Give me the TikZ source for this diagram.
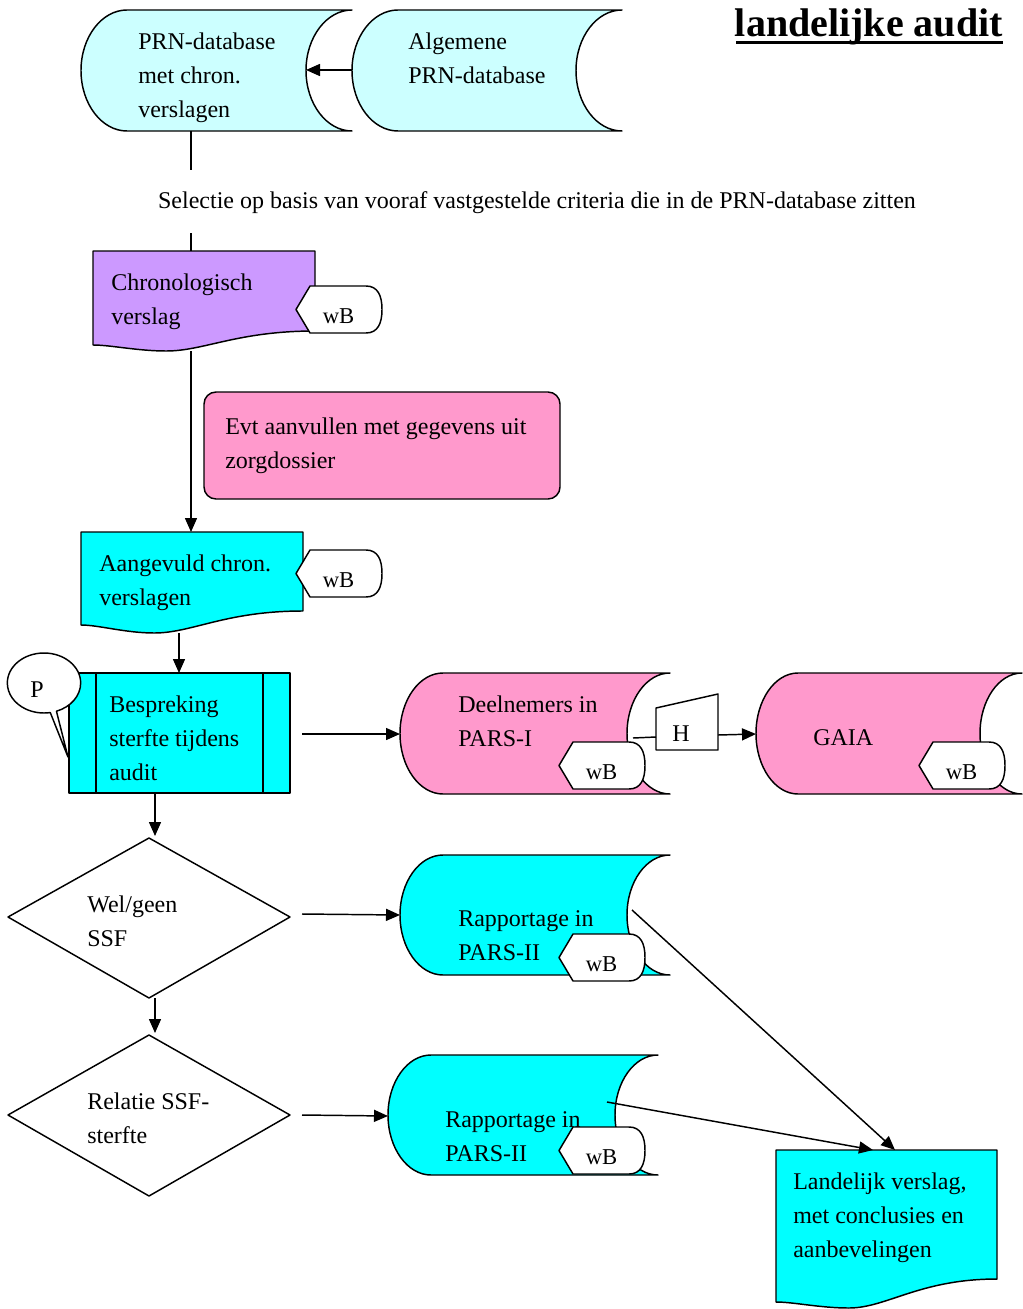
\documentclass[tikz,border=0pt]{standalone}
\usepackage{fontspec}
\setmainfont{Liberation Serif}
\usetikzlibrary{arrows.meta,shapes.callouts}

\definecolor{paleCyan}{HTML}{CCFFFF}
\definecolor{brightCyan}{HTML}{00FFFF}
\definecolor{lilac}{HTML}{CC99FF}
\definecolor{rose}{HTML}{FF99CC}

% stored-data shape: #1 left x, #2 right x, #3 top y, #4 bottom y, #5 curve depth, #6 fill
\newcommand\storedshape[6]{%
  \filldraw[shp,fill=#6] ({#1+#5},#3) -- (#2,#3)
    .. controls ({#2-0.55*#5},#3) and ({#2-#5},{(#3+#4)/2-0.276*(#4-#3)}) .. ({#2-#5},{(#3+#4)/2})
    .. controls ({#2-#5},{(#3+#4)/2+0.276*(#4-#3)}) and ({#2-0.55*#5},#4) .. (#2,#4)
    -- ({#1+#5},#4)
    .. controls ({#1+0.45*#5},#4) and (#1,{(#3+#4)/2+0.276*(#4-#3)}) .. (#1,{(#3+#4)/2})
    .. controls (#1,{(#3+#4)/2-0.276*(#4-#3)}) and ({#1+0.45*#5},#3) .. cycle;}

% document shape: #1 left x, #2 right x, #3 top y, #4 right bottom y, #5 lowest y, #6 left bottom y, #7 fill
\newcommand\docshape[7]{%
  \filldraw[shp,fill=#7] (#1,#3) -- (#2,#3) -- (#2,#4)
    .. controls ({#1+0.65*(#2-#1)},#4) and ({#1+0.5*(#2-#1)},#5) .. ({#1+0.33*(#2-#1)},#5)
    .. controls ({#1+0.2*(#2-#1)},#5) and ({#1+0.08*(#2-#1)},#6) .. (#1,#6) -- cycle;}

% wB tag: #1 node name, #2 left x, #3 top y
\newcommand\wbtag[3]{%
  \filldraw[shp,fill=white] (#2,{#3+23.5}) -- ({#2+14},#3) -- ({#2+70},#3)
    .. controls ({#2+82},#3) and ({#2+86},{#3+10}) .. ({#2+86},{#3+23.5})
    .. controls ({#2+86},{#3+37}) and ({#2+82},{#3+47}) .. ({#2+70},{#3+47})
    -- ({#2+14},{#3+47}) -- cycle;
  \node[tagtxt] (#1) at ({#2+42.5},{#3+37.5}) {wB};}

\begin{document}
\begin{tikzpicture}[x=0.75pt,y=-0.75pt,line join=round,
  shp/.style={draw=black,line width=1.1pt},
  txt/.style={font=\fontsize{18}{25.5}\selectfont,align=left,inner sep=0pt,anchor=north west},
  one/.style={font=\fontsize{18}{20}\selectfont,inner sep=0pt,anchor=base},
  tagtxt/.style={font=\fontsize{17}{19}\selectfont,inner sep=0pt,anchor=base},
  arr/.style={-{Triangle[length=10.5pt,width=9pt]},line width=1.1pt},
  con/.style={line width=1.1pt}]
\useasboundingbox (0,0) rectangle (1022,1309);

% title
\node[font=\bfseries\fontsize{30}{32}\selectfont,inner sep=0pt,anchor=base east] (title) at (1003,36.5) {landelijke audit};
\draw[line width=2.3pt] (736,42.5) -- (1003,42.5);

% databases at the top
\storedshape{81}{352}{10}{131}{46}{paleCyan}
\node[txt] (prnchron) at (138,33) {PRN-database\\met chron.\\verslagen};
\storedshape{352}{622}{10}{131}{46}{paleCyan}
\node[txt] (prnalg) at (408,33) {Algemene\\PRN-database};
\coordinate (algL) at (352,70);
\coordinate (chronR) at (306,70);
\draw[arr] (algL) -- (chronR);

% selection step
\node[one] (sel) at (537,208) {Selectie op basis van vooraf vastgestelde criteria die in de PRN-database zitten};
\coordinate (chronB) at (191,131);
\coordinate (selA) at (191,170);
\coordinate (selB) at (191,233);
\coordinate (verslT) at (191,251);
\draw[con] (chronB) -- (selA);
\draw[con] (selB) -- (verslT);

% chronological report
\docshape{93}{315}{251}{331}{351}{345}{lilac}
\node[txt] (chronverslag) at (111,274) {Chronologisch\\verslag};
\wbtag{wb1}{296}{286}

% supplement note
\filldraw[shp,fill=rose,rounded corners=9pt] (204,392) rectangle (560,499);
\node[txt] (aanvul) at (225,418) {Evt aanvullen met gegevens uit\\zorgdossier};

% supplemented report
\coordinate (verslB) at (191,351);
\coordinate (aangT) at (191,532);
\draw[arr] (verslB) -- (aangT);
\docshape{81}{303}{532}{611}{633}{625}{brightCyan}
\node[txt] (aangevuld) at (99,555) {Aangevuld chron.\\verslagen};
\wbtag{wb2}{296}{550}

% discussion during audit
\coordinate (aangB) at (179,633);
\coordinate (bespT) at (179,673);
\draw[arr] (aangB) -- (bespT);
\filldraw[shp,fill=brightCyan] (69,673) rectangle (290,793);
\draw[shp] (96,673) -- (96,793) (263,673) -- (263,793);
\node[txt] (bespreking) at (109,696) {Bespreking\\sterfte tijdens\\audit};
\node[ellipse callout,draw,fill=white,line width=1.1pt,minimum width=55pt,minimum height=45pt,
  inner sep=0pt,callout absolute pointer={(68,757)},callout pointer arc=10] (Pbubble) at (44,683) {};
\node[one] (P) at (37,697) {P};

% PARS-I and GAIA
\coordinate (bespR) at (302,734);
\coordinate (deelL) at (400,734);
\draw[arr] (bespR) -- (deelL);
\storedshape{400}{670}{673}{794}{43}{rose}
\node[txt] (deelnemers) at (458,696) {Deelnemers in\\PARS-I};
\wbtag{wb3}{559}{742}
\filldraw[shp,fill=white] (656,708) -- (718,694) -- (718,750) -- (656,750) -- cycle;
\node[one] (H) at (681,741) {H};
\coordinate (deelR) at (633,738);
\coordinate (hL) at (656,737);
\coordinate (hR) at (718,735);
\coordinate (gaiaL) at (756,734);
\draw[con] (deelR) -- (hL);
\draw[arr] (hR) -- (gaiaL);
\storedshape{756}{1022}{673}{794}{42}{rose}
\node[txt] (gaia) at (813,729) {GAIA};
\wbtag{wb4}{919}{742}

% decision: SSF yes/no
\coordinate (bespB) at (155,793);
\coordinate (d1T) at (155,836);
\draw[arr] (bespB) -- (d1T);
\filldraw[shp,fill=white] (8,917) -- (149,838) -- (290,917) -- (149,998) -- cycle;
\node[txt] (welgeen) at (87,896) {Wel/geen\\SSF};
\coordinate (d1R) at (302,914);
\coordinate (rap1L) at (400,915);
\draw[arr] (d1R) -- (rap1L);
\storedshape{400}{670}{855}{975}{43}{brightCyan}
\node[txt] (rap1) at (458,910) {Rapportage in\\PARS-II};
\wbtag{wb5}{559}{934}

% decision: relation SSF and death
\coordinate (d1B) at (155,998);
\coordinate (d2T) at (155,1033);
\draw[arr] (d1B) -- (d2T);
\filldraw[shp,fill=white] (8,1115) -- (149,1035) -- (290,1115) -- (149,1196) -- cycle;
\node[txt] (relatie) at (87,1093) {Relatie SSF-\\sterfte};
\coordinate (d2R) at (302,1115);
\coordinate (rap2L) at (388,1116);
\draw[arr] (d2R) -- (rap2L);
\storedshape{388}{658}{1055}{1175}{43}{brightCyan}
\node[txt] (rap2) at (445,1111) {Rapportage in\\PARS-II};
\wbtag{wb6}{559}{1127}

% national report
\docshape{776}{997}{1150}{1279}{1308}{1302}{brightCyan}
\node[txt] (landelijk) at (793,1173) {Landelijk verslag,\\met conclusies en\\aanbevelingen};
\coordinate (rap1R) at (632,910);
\coordinate (rap2R) at (607,1102);
\coordinate (landA) at (895,1150);
\coordinate (landB) at (873,1150);
\draw[arr] (rap1R) -- (landA);
\draw[arr] (rap2R) -- (landB);
\end{tikzpicture}
\end{document}
